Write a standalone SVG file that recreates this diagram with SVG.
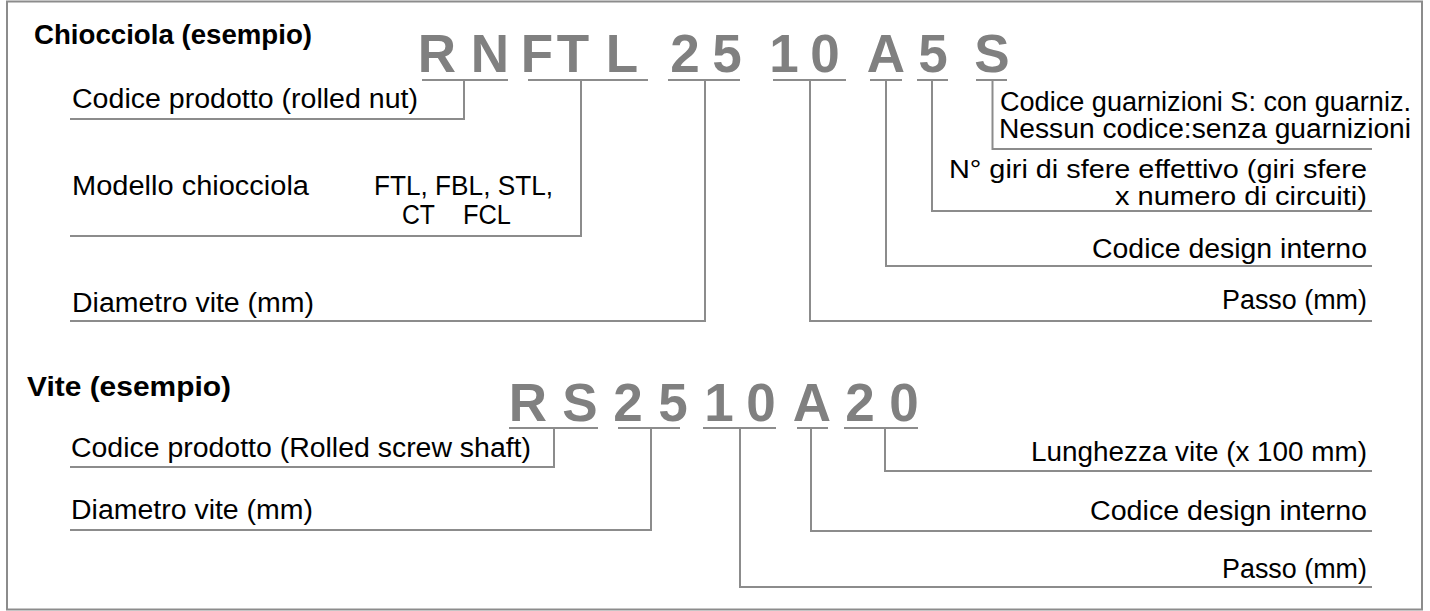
<svg xmlns="http://www.w3.org/2000/svg" width="1430" height="611" viewBox="0 0 1430 611">
<style>
.t{font-family:"Liberation Sans",Arial,sans-serif;font-size:27px;fill:#000}
.s{font-size:25.5px}
.b{font-family:"Liberation Sans",Arial,sans-serif;font-size:28px;font-weight:bold;fill:#000}
.c{font-family:"Liberation Sans",Arial,sans-serif;font-size:53px;font-weight:bold;fill:#808080;text-anchor:middle}
.r{text-anchor:end}
.ln{fill:none;stroke:#8c8c8c;stroke-width:2}
</style>
<rect x="7" y="1.5" width="1415" height="608" fill="#fff" stroke="#8c8c8c" stroke-width="2"/>
<g id="nut-title"><text class="b" x="34" y="44" textLength="278" lengthAdjust="spacingAndGlyphs">Chiocciola (esempio)</text></g>
<g id="nut-code">
<text class="c" x="437" y="72">R</text><text class="c" x="490" y="72">N</text>
<text class="c" x="537" y="72">F</text><text class="c" x="573" y="72">T</text><text class="c" x="622" y="72">L</text>
<text class="c" x="685" y="72">2</text><text class="c" x="727" y="72">5</text>
<text class="c" x="784" y="72">1</text><text class="c" x="825" y="72">0</text>
<text class="c" x="886" y="72">A</text><text class="c" x="933" y="72">5</text>
<text class="c" x="992" y="72">S</text>
</g>
<g id="nut-labels">
<text class="t" x="72" y="108" textLength="346" lengthAdjust="spacingAndGlyphs">Codice prodotto (rolled nut)</text>
<text class="t" x="72" y="195" textLength="237" lengthAdjust="spacingAndGlyphs">Modello chiocciola</text>
<text class="t" x="374" y="195" textLength="179" lengthAdjust="spacingAndGlyphs">FTL, FBL, STL,</text>
<text class="t" y="224"><tspan x="402" textLength="33" lengthAdjust="spacingAndGlyphs">CT</tspan><tspan x="463" textLength="48" lengthAdjust="spacingAndGlyphs">FCL</tspan></text>
<text class="t" x="72" y="312" textLength="242" lengthAdjust="spacingAndGlyphs">Diametro vite (mm)</text>
<text class="t" x="1000" y="111" textLength="411" lengthAdjust="spacingAndGlyphs">Codice guarnizioni S: con guarniz.</text>
<text class="t" x="999" y="138" textLength="412" lengthAdjust="spacingAndGlyphs">Nessun codice:senza guarnizioni</text>
<text class="t s r" x="1367" y="178" textLength="418" lengthAdjust="spacingAndGlyphs">N° giri di sfere effettivo (giri sfere</text>
<text class="t s r" x="1367" y="205" textLength="252" lengthAdjust="spacingAndGlyphs">x numero di circuiti)</text>
<text class="t r" x="1367" y="258" textLength="275" lengthAdjust="spacingAndGlyphs">Codice design interno</text>
<text class="t r" x="1367" y="309" textLength="145" lengthAdjust="spacingAndGlyphs">Passo (mm)</text>
</g>
<g id="screw-title"><text class="b" x="27" y="396" textLength="204" lengthAdjust="spacingAndGlyphs">Vite (esempio)</text></g>
<g id="screw-code">
<text class="c" x="528" y="421">R</text><text class="c" x="580" y="421">S</text>
<text class="c" x="628" y="421">2</text><text class="c" x="673" y="421">5</text>
<text class="c" x="719" y="421">1</text><text class="c" x="761" y="421">0</text>
<text class="c" x="812" y="421">A</text><text class="c" x="860" y="421">2</text><text class="c" x="904" y="421">0</text>
</g>
<g id="screw-labels">
<text class="t" x="71" y="457" textLength="460" lengthAdjust="spacingAndGlyphs">Codice prodotto (Rolled screw shaft)</text>
<text class="t" x="71" y="519" textLength="242" lengthAdjust="spacingAndGlyphs">Diametro vite (mm)</text>
<text class="t r" x="1367" y="461" textLength="336" lengthAdjust="spacingAndGlyphs">Lunghezza vite (x 100 mm)</text>
<text class="t r" x="1367" y="520" textLength="277" lengthAdjust="spacingAndGlyphs">Codice design interno</text>
<text class="t r" x="1367" y="578" textLength="145" lengthAdjust="spacingAndGlyphs">Passo (mm)</text>
</g>
<g id="connectors" class="ln">
<path d="M422 80H508M464 80V119H70"/>
<path d="M528 80H648M581 80V236H70"/>
<path d="M668 80H740M705 80V321H70"/>
<path d="M773 80H846M810 80V321H1372"/>
<path d="M870 80H902M886 80V266H1372"/>
<path d="M917 80H948M932 80V211H1372"/>
<path d="M976 80H1007M992.5 80V149H1372"/>
<path d="M509 428H598M554 428V467H70"/>
<path d="M618 428H680M651 428V530H70"/>
<path d="M703 428H776M740 428V587H1372"/>
<path d="M797 428H828M811 428V531H1372"/>
<path d="M844 428H918M885 428V471H1372"/>
</g>
</svg>
